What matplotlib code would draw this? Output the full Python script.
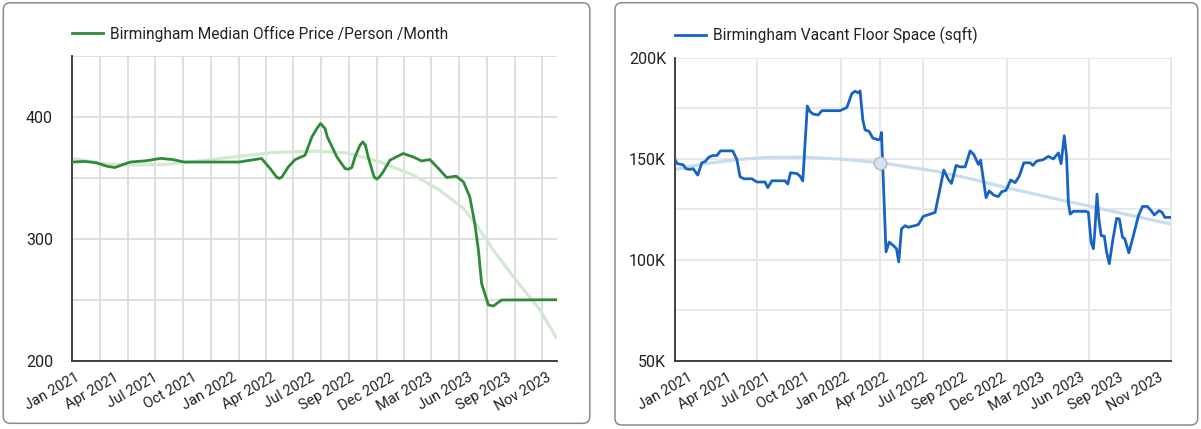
import numpy as np
import matplotlib
matplotlib.use("Agg")
import matplotlib.pyplot as plt
from matplotlib.patches import FancyBboxPatch
from matplotlib.transforms import IdentityTransform

plt.rcParams['font.family'] = ['Roboto', 'DejaVu Sans']

START = np.datetime64('2021-01-01')

# x values are days since 1 Jan 2021
price_days = [0, 25, 50, 75, 92, 110, 126, 160, 193, 220, 244, 300, 365, 415, 434, 448, 454, 460,
              474, 489, 511, 526, 537, 545, 555, 560, 581, 599, 606, 614, 621, 632, 638, 644, 650,
              663, 669, 675, 683, 698, 727, 749, 768, 786, 805, 823, 844, 860, 874, 885, 893, 900,
              915, 926, 944, 1065]
price_vals = [363, 363.5, 362.5, 359.5, 358.5, 361, 363, 364, 366, 365, 363, 363, 363, 365.9, 357.7,
              350.8, 349.5, 350.8, 359, 365, 368.6, 383.6, 390.5, 394.6, 390.5, 383.6, 367.2, 357.7,
              357.1, 358.5, 367.2, 376.8, 379.5, 376.8, 367.2, 350.8, 349, 350.8, 354.9, 364.5, 370,
              367.2, 363.9, 365, 357.7, 350.3, 351.4, 346.7, 334.4, 312.6, 290.7, 263.4, 245.7,
              244.9, 249.8, 250]
price_trend_days = [0, 60, 120, 200, 280, 368, 441, 537, 603, 676, 750, 808, 860, 889, 926, 970,
                    1014, 1029, 1066]
price_trend_vals = [366, 362, 360.5, 361, 364, 367.8, 370.8, 371.9, 370.5, 363.1, 352.2, 339.9,
                    324.9, 311.2, 290.7, 268.9, 248.4, 241.6, 218]

space_days = [0, 5, 18, 24, 33, 40, 50, 59, 66, 75, 83, 92, 100, 127, 136, 143, 152, 169, 180, 198,
              204, 213, 242, 248, 254, 268, 275, 281, 291, 297, 304, 315, 323, 363, 378, 389, 396,
              403, 407, 413, 418, 427, 435, 447, 451, 454, 464, 471, 480, 487, 492, 498, 506, 513,
              535, 546, 561, 572, 581, 591, 601, 608, 618, 627, 638, 649, 657, 667, 672, 678, 684,
              691, 701, 711, 718, 728, 738, 748, 757, 767, 781, 787, 795, 810, 821, 832, 843, 849,
              856, 861, 865, 869, 876, 903, 909, 915, 920, 923, 928, 932, 937, 944, 949, 955, 962,
              971, 977, 984, 989, 998, 1008, 1019, 1028, 1039, 1047, 1054, 1064, 1071, 1077, 1088]
space_vals = [149.5, 147.5, 146.9, 145, 144.6, 145, 141.8, 147.9, 148.5, 150.8, 151.5, 151.5, 153.8,
              153.8, 149.5, 141, 140, 140, 138.4, 138.4, 135.6, 139, 139, 137.4, 143, 142.6, 141.3,
              138.9, 176, 173.2, 172, 171.6, 173.7, 173.7, 175.3, 182.2, 183.3, 182.5, 183.5, 169.1,
              164.2, 163.4, 160.1, 159.3, 159.6, 162.9, 103.8, 108.7, 107, 105.4, 98.9, 115.2,
              116.8, 116, 117.3, 121.4, 122.5, 123.4, 133.2, 144.3, 139.7, 137.7, 146.6, 145.9,
              145.9, 153.8, 152, 147.1, 149.2, 139.7, 130.7, 134, 131.9, 131.2, 133.5, 134.3, 139.4,
              138.1, 141.3, 147.9, 147.9, 146.6, 148.7, 149.5, 151.1, 149.8, 152.8, 147.5, 161.3,
              151.1, 128.3, 122.5, 123.9, 123.9, 123.4, 108.7, 105.4, 113.6, 132.4, 120.1, 111.9,
              111.6, 103.8, 98, 108.7, 120.4, 120.1, 111.1, 110.3, 103.4, 111.9, 121.7, 126.3,
              126.3, 124.2, 122.1, 124.2, 123.4, 120.9, 120.9]
space_trend_days = [0, 60, 136, 200, 280, 360, 451, 572, 650, 728, 800, 856, 909, 1000, 1090]
space_trend_vals = [144.6, 147.3, 149.5, 150.5, 150.7, 149.8, 148, 143.8, 140, 135.6, 132, 129.1,
                    126.6, 122, 117.6]
hover_day, hover_val = 451, 148.0

tick_labels = ["Jan 2021", "Apr 2021", "Jul 2021", "Oct 2021", "Jan 2022", "Apr 2022", "Jul 2022",
               "Sep 2022", "Dec 2022", "Mar 2023", "Jun 2023", "Sep 2023", "Nov 2023"]


def month_days(first, last, step):
    m = np.arange(np.datetime64(first, 'M'), np.datetime64(last, 'M') + 1, step)
    return (m.astype('datetime64[D]') - START).astype(int)


GREEN = '#2e8b35'
GREEN_TREND = '#d3e8d3'
BLUE = '#1763c4'
BLUE_TREND = '#c8dbf0'
TXT = '#222222'

fig = plt.figure(figsize=(12.01, 4.29), dpi=100)

for x0, y0, w, h in [(3.3, 5.7, 586.5, 420.5), (615, 4, 582.7, 422.3)]:
    fig.add_artist(FancyBboxPatch((x0, y0), w, h, boxstyle='round,pad=0,rounding_size=7',
                                  transform=IdentityTransform(), facecolor='none',
                                  edgecolor='#8a8a8a', lw=1.1))

ax1 = fig.add_axes([71.7 / 1201, (429 - 360.7) / 429, (556.7 - 71.7) / 1201, (360.7 - 56) / 429])
ax2 = fig.add_axes([675 / 1201, (429 - 360.7) / 429, (1170.7 - 675) / 1201, (360.7 - 57.5) / 429])

# left panel
ax1.plot(price_trend_days, price_trend_vals, color=GREEN_TREND, lw=2.3, solid_capstyle='butt', zorder=2)
ax1.plot(price_days, price_vals, color=GREEN, lw=2.0, zorder=3, solid_joinstyle='round',
         label="Birmingham Median Office Price /Person /Month")
ax1.set_xlim(-3.3, 1065.5)
ax1.set_ylim(200, 450)
ax1.set_yticks([200, 300, 400])
ax1.set_yticks([250, 350, 450], minor=True)
ax1.set_xticks(month_days('2021-03', '2023-11', 2), minor=True)
ax1.set_xticks(np.linspace(18.7, 1058, 13), tick_labels, rotation=30, ha='right')
ax1.grid(which='minor', axis='x', color='#d9d9d9', lw=1.2)
ax1.grid(which='both', axis='y', color='#d9d9d9', lw=1.2)
ax1.tick_params(axis='y', which='both', length=0, pad=13.5, labelsize=11.5, labelcolor=TXT)
ax1.tick_params(axis='x', which='both', length=0, pad=7, labelsize=10.5, labelcolor=TXT)

# right panel
ax2.axvline(hover_day, color='#e6e6e6', lw=1.3, zorder=1)
ax2.plot(space_trend_days, space_trend_vals, color=BLUE_TREND, lw=2.3, solid_capstyle='butt', zorder=2)
ax2.plot(space_days, space_vals, color=BLUE, lw=2.0, zorder=3, solid_joinstyle='round',
         label="Birmingham Vacant Floor Space (sqft)")
ax2.plot([hover_day], [hover_val], 'o', ms=9, mfc='#d3e2f4', mec='#b5b5b5', mew=0.9, zorder=4)
ax2.set_xlim(0, 1090)
ax2.set_ylim(50, 200)
ax2.set_yticks([50, 100, 150, 200], ["50K", "100K", "150K", "200K"])
ax2.set_yticks([75, 125, 175], minor=True)
ax2.set_xticks(month_days('2021-07', '2023-07', 6), minor=True)
ax2.set_xticks(np.linspace(44, 1078, 13), tick_labels, rotation=30, ha='right')
ax2.grid(which='minor', axis='x', color='#e8e8e8', lw=1.4)
ax2.grid(which='both', axis='y', color='#e8e8e8', lw=1.4)
ax2.tick_params(axis='y', which='both', length=0, pad=6.5, labelsize=11.5, labelcolor=TXT)
ax2.tick_params(axis='x', which='both', length=0, pad=7, labelsize=10.5, labelcolor=TXT)

for ax in (ax1, ax2):
    ax.set_axisbelow(True)
    ax.spines['top'].set_visible(False)
    for s in ('left', 'bottom'):
        ax.spines[s].set_color('#333333')
        ax.spines[s].set_linewidth(1.3)
ax1.spines['right'].set_visible(False)
ax2.spines['right'].set_color('#e8e8e8')
ax2.spines['right'].set_linewidth(1.4)

ax1.legend(loc='center left', bbox_to_anchor=(72 / 1201, 1 - 33.5 / 429), bbox_transform=fig.transFigure,
           frameon=False, fontsize=11.2, handlelength=2.0, handletextpad=0.45, borderpad=0,
           borderaxespad=0, labelcolor=TXT)
ax2.legend(loc='center left', bbox_to_anchor=(675 / 1201, 1 - 35.5 / 429), bbox_transform=fig.transFigure,
           frameon=False, fontsize=11.2, handlelength=2.0, handletextpad=0.45, borderpad=0,
           borderaxespad=0, labelcolor=TXT)

fig.savefig('out.png', dpi=100)
